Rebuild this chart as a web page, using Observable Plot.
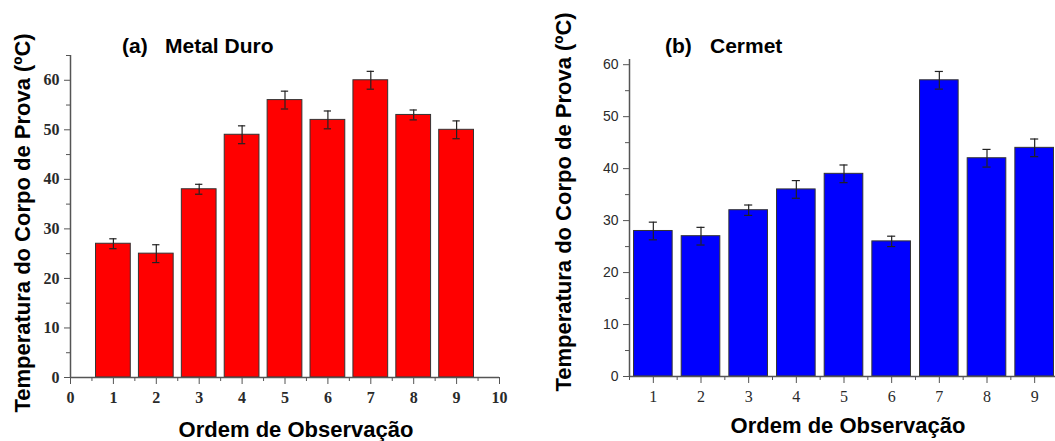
<!DOCTYPE html>
<html>
<head>
<meta charset="utf-8">
<script src="https://cdn.jsdelivr.net/npm/d3@7"></script>
<script src="https://cdn.jsdelivr.net/npm/@observablehq/plot@0.6"></script>
<style>
  html, body { margin: 0; padding: 0; background: #fff; }
  #wrap { position: relative; width: 1055px; height: 441px; overflow: hidden; background: #fff; }
  .panel { position: absolute; top: 0; }
  .panel svg { max-width: none !important; }
  .lbl { position: absolute; font-family: "Liberation Sans", Arial, sans-serif; font-weight: bold; color: #000; white-space: nowrap; line-height: 1; }
  .rot { transform: translate(-50%, -50%) rotate(-90deg); }
  .ctr { transform: translateX(-50%); }
</style>
</head>
<body>
<div id="wrap">
  <div id="left" class="panel" style="left:0px;width:530px"></div>
  <div id="right" class="panel" style="left:530px;width:540px"></div>
  <div class="lbl" style="left:122px;top:35px;font-size:21px">(a)</div>
  <div class="lbl" style="left:165px;top:35px;font-size:21px">Metal Duro</div>
  <div class="lbl" style="left:665px;top:35px;font-size:21px">(b)</div>
  <div class="lbl" style="left:710px;top:35px;font-size:21px">Cermet</div>
  <div class="lbl rot" style="left:23px;top:223px;font-size:22px">Temperatura do Corpo de Prova (ºC)</div>
  <div class="lbl rot" style="left:564px;top:202px;font-size:22px">Temperatura do Corpo de Prova (ºC)</div>
  <div class="lbl ctr" style="left:296px;top:419px;font-size:22px">Ordem de Observação</div>
  <div class="lbl ctr" style="left:848px;top:415px;font-size:22px">Ordem de Observação</div>
</div>
<script>
// Data
const observations = [1, 2, 3, 4, 5, 6, 7, 8, 9];
const metalDuro = [27, 25, 38, 49, 56, 52, 60, 53, 50];
const metalDuroErr = [1, 1.8, 1, 1.8, 1.8, 1.8, 1.8, 1, 1.8];
const cermet = [28, 27, 32, 36, 39, 26, 57, 42, 44];
const cermetErr = [1.7, 1.7, 1, 1.7, 1.7, 1, 1.7, 1.7, 1.7];
const leftXTicks = [0, 1, 2, 3, 4, 5, 6, 7, 8, 9, 10];
const rightXTicks = [1, 2, 3, 4, 5, 6, 7, 8, 9];
const leftYTicks = [0, 10, 20, 30, 40, 50, 60];
const rightYTicks = [0, 10, 20, 30, 40, 50, 60];

const tableA = observations.map((x, i) => ({x, v: metalDuro[i], e: metalDuroErr[i]}));
const tableB = observations.map((x, i) => ({x, v: cermet[i], e: cermetErr[i]}));

const serif = "'Liberation Serif', 'Times New Roman', serif";
const sans = "'Liberation Sans', Arial, sans-serif";
const axisColor = "#555";

function panel({data, fill, xDomain, yDomain, width, marginLeft, marginRight, marginTop, marginBottom,
                xMajor, xMinor, yMajor, yMinor, yFont, yWeight, yFontSize, xWeight, xFontSize, capHalf}) {
  return Plot.plot({
    width, height: 441, marginLeft, marginRight, marginTop, marginBottom,
    style: {background: "transparent", overflow: "visible", maxWidth: "none"},
    x: {domain: xDomain},
    y: {domain: yDomain},
    marks: [
      Plot.rectY(data, {x1: d => d.x - 0.405, x2: d => d.x + 0.405, y: "v", fill, stroke: "#333", strokeWidth: 1}),
      Plot.ruleX(data, {x: "x", y1: d => d.v - d.e, y2: d => d.v + d.e, stroke: "#222", strokeWidth: 1.2}),
      Plot.ruleY(data, {y: d => d.v + d.e, x1: d => d.x - capHalf, x2: d => d.x + capHalf, stroke: "#222", strokeWidth: 1.2}),
      Plot.ruleY(data, {y: d => d.v - d.e, x1: d => d.x - capHalf, x2: d => d.x + capHalf, stroke: "#222", strokeWidth: 1.2}),
      // axis lines
      Plot.ruleX([xDomain[0]], {y1: yDomain[0], y2: yDomain[1], stroke: axisColor, strokeWidth: 1.5}),
      Plot.ruleY([yDomain[0]], {x1: xDomain[0], x2: xDomain[1], stroke: axisColor, strokeWidth: 1.5}),
      // y axis
      Plot.axisY(yMajor, {tickSize: 6, tickPadding: 5, stroke: axisColor, fill: "#2a2a2a",
        fontFamily: yFont, fontWeight: yWeight, fontSize: yFontSize, label: null}),
      Plot.axisY(yMinor, {tickSize: 4, tickFormat: () => "", stroke: axisColor, label: null}),
      // x axis
      Plot.axisX(xMajor, {tickSize: 7, tickPadding: 7, stroke: axisColor, fill: "#2a2a2a",
        fontFamily: serif, fontWeight: xWeight, fontSize: xFontSize, label: null}),
      Plot.axisX(xMinor, {tickSize: 4, tickFormat: () => "", stroke: axisColor, label: null})
    ]
  });
}

document.getElementById("left").append(panel({
  data: tableA, fill: "#ff0000", xDomain: [0, 10], yDomain: [0, 65],
  width: 530, marginLeft: 70, marginRight: 31, marginTop: 55, marginBottom: 64,
  xMajor: leftXTicks, xMinor: d3.range(0.5, 10, 1),
  yMajor: leftYTicks, yMinor: d3.range(5, 66, 10),
  yFont: serif, yWeight: "bold", yFontSize: 16, xWeight: "bold", xFontSize: 16, capHalf: 0.085
}));

document.getElementById("right").append(panel({
  data: tableB, fill: "#0000ff", xDomain: [0.5, 9.5], yDomain: [0, 61],
  width: 540, marginLeft: 99, marginRight: 12, marginTop: 59, marginBottom: 65,
  xMajor: rightXTicks, xMinor: d3.range(0.5, 9.6, 1),
  yMajor: rightYTicks, yMinor: d3.range(5, 61, 10),
  yFont: sans, yWeight: "normal", yFontSize: 14, xWeight: "normal", xFontSize: 16, capHalf: 0.085
}));
</script>
</body>
</html>
